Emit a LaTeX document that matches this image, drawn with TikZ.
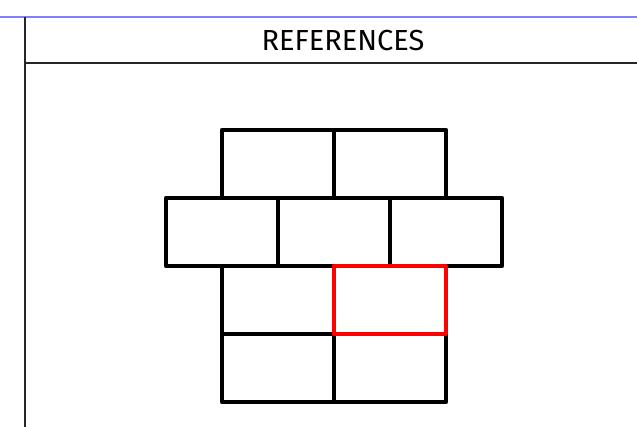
\documentclass[tikz,border=0pt]{standalone}
\usepackage{fontspec}
\setmainfont{Fira Sans}
\usepackage{tikz}
\usetikzlibrary{positioning}

\begin{document}
\begin{tikzpicture}[
    x=1pt, y=-1pt,
    node distance=0pt,
    brick/.style={draw, rectangle, line width=4.4pt, line join=round, outer sep=0pt, minimum width=112pt, minimum height=68pt},
    frame/.style={line width=1.3pt, black!85},
    title/.style={font=\fontsize{29}{31}\selectfont}
]
    \useasboundingbox (0,0) rectangle (637,427);

    % sheet frame
    \draw[line width=1.5pt, blue!50] (0,17) -- (637,17);
    \draw[frame] (25,17) -- (25,427);
    \draw[frame] (25,63) -- (637,63);
    \node[title] (head) at (343,41) {REFERENCES};

    % bricks
    \node[brick] (b11) at (278,164) {};
    \node[brick, right=of b11] (b12) {};
    \node[brick, below=of b11, xshift=-56pt] (b21) {};
    \node[brick, right=of b21] (b22) {};
    \node[brick, right=of b22] (b23) {};
    \node[brick, below=of b21, xshift=56pt] (b31) {};
    \node[brick, below=of b31] (b41) {};
    \node[brick, right=of b41] (b42) {};
    \node[brick, red, above=of b42] (b32) {};
\end{tikzpicture}
\end{document}
